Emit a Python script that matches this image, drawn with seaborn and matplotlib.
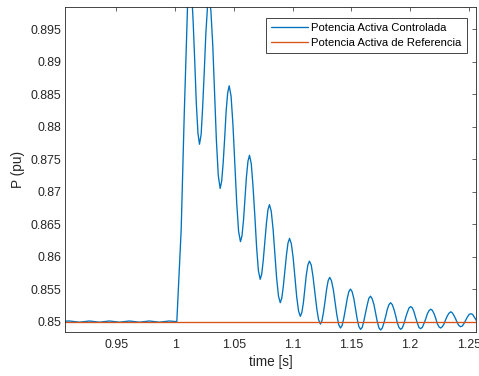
import matplotlib
matplotlib.use("Agg")
import matplotlib.pyplot as plt
import seaborn as sns
import numpy as np
import pandas as pd
from matplotlib.ticker import FuncFormatter

# ---------------- data ----------------
t_pre = [0.9050, 0.9100, 0.9185, 0.9270, 0.9355, 0.9440, 0.9525, 0.9610,
         0.9695, 0.9780, 0.9865, 0.9950, 1.0000]
p_pre = [0.85005, 0.85008, 0.84990, 0.85008, 0.84990, 0.85008, 0.84990,
         0.85008, 0.84990, 0.85008, 0.84990, 0.85008, 0.85000]

t_osc = [1.0014, 1.0051, 1.0077, 1.0105, 1.0116, 1.0126,
         1.0140, 1.0153, 1.0167, 1.0180, 1.0194, 1.0207,
         1.0221, 1.0234, 1.0248, 1.0261, 1.0275, 1.0288,
         1.0304, 1.0320, 1.0336, 1.0351, 1.0367, 1.0383,
         1.0396, 1.0409, 1.0422, 1.0434, 1.0447, 1.0460,
         1.0476, 1.0492, 1.0508, 1.0524, 1.0540, 1.0556,
         1.0569, 1.0582, 1.0595, 1.0607, 1.0620, 1.0633,
         1.0648, 1.0663, 1.0679, 1.0694, 1.0709, 1.0724,
         1.0737, 1.0750, 1.0764, 1.0777, 1.0790, 1.0803,
         1.0818, 1.0834, 1.0849, 1.0864, 1.0880, 1.0895,
         1.0908, 1.0921, 1.0935, 1.0948, 1.0961, 1.0974,
         1.0989, 1.1005, 1.1020, 1.1035, 1.1051, 1.1066,
         1.1079, 1.1092, 1.1105, 1.1117, 1.1130, 1.1143,
         1.1159, 1.1174, 1.1190, 1.1206, 1.1221, 1.1237,
         1.1250, 1.1263, 1.1277, 1.1290, 1.1303, 1.1316,
         1.1331, 1.1347, 1.1362, 1.1377, 1.1393, 1.1408,
         1.1422, 1.1436, 1.1451, 1.1465, 1.1479, 1.1493,
         1.1507, 1.1522, 1.1536, 1.1550, 1.1565, 1.1579,
         1.1593, 1.1607, 1.1622, 1.1636, 1.1650, 1.1664,
         1.1678, 1.1693, 1.1707, 1.1721, 1.1736, 1.1750,
         1.1764, 1.1778, 1.1793, 1.1807, 1.1821, 1.1835,
         1.1849, 1.1863, 1.1878, 1.1892, 1.1906, 1.1920,
         1.1934, 1.1949, 1.1963, 1.1977, 1.1992, 1.2006,
         1.2020, 1.2034, 1.2048, 1.2062, 1.2076, 1.2090,
         1.2105, 1.2119, 1.2134, 1.2148, 1.2163, 1.2177,
         1.2191, 1.2205, 1.2219, 1.2232, 1.2246, 1.2260,
         1.2275, 1.2289, 1.2304, 1.2319, 1.2333, 1.2348,
         1.2362, 1.2375, 1.2389, 1.2403, 1.2416, 1.2430,
         1.2445, 1.2460, 1.2475, 1.2489, 1.2504, 1.2519,
         1.2533, 1.2547, 1.2561, 1.2574]
p_osc = [0.8500, 0.8641, 0.8818, 0.8984, 0.9015, 0.9025,
         0.9008, 0.8962, 0.8899, 0.8836, 0.8790, 0.8773,
         0.8788, 0.8830, 0.8886, 0.8943, 0.8984, 0.8999,
         0.8979, 0.8926, 0.8852, 0.8779, 0.8725, 0.8705,
         0.8716, 0.8745, 0.8784, 0.8824, 0.8852, 0.8863,
         0.8847, 0.8803, 0.8743, 0.8683, 0.8639, 0.8623,
         0.8632, 0.8656, 0.8690, 0.8723, 0.8747, 0.8756,
         0.8743, 0.8708, 0.8661, 0.8613, 0.8578, 0.8565,
         0.8573, 0.8594, 0.8623, 0.8651, 0.8672, 0.8680,
         0.8670, 0.8642, 0.8605, 0.8567, 0.8539, 0.8529,
         0.8536, 0.8554, 0.8579, 0.8603, 0.8621, 0.8628,
         0.8620, 0.8598, 0.8568, 0.8538, 0.8516, 0.8508,
         0.8514, 0.8529, 0.8551, 0.8572, 0.8587, 0.8593,
         0.8587, 0.8569, 0.8545, 0.8520, 0.8503, 0.8496,
         0.8501, 0.8514, 0.8532, 0.8550, 0.8563, 0.8568,
         0.8563, 0.8549, 0.8529, 0.8510, 0.8495, 0.8490,
         0.8494, 0.8505, 0.8520, 0.8535, 0.8546, 0.8550,
         0.8546, 0.8535, 0.8519, 0.8504, 0.8492, 0.8488,
         0.8491, 0.8501, 0.8514, 0.8526, 0.8536, 0.8539,
         0.8535, 0.8526, 0.8513, 0.8500, 0.8490, 0.8487,
         0.8490, 0.8498, 0.8508, 0.8519, 0.8526, 0.8529,
         0.8526, 0.8519, 0.8509, 0.8498, 0.8491, 0.8488,
         0.8490, 0.8497, 0.8506, 0.8514, 0.8521, 0.8523,
         0.8521, 0.8515, 0.8506, 0.8498, 0.8491, 0.8489,
         0.8491, 0.8497, 0.8504, 0.8512, 0.8517, 0.8519,
         0.8517, 0.8512, 0.8505, 0.8497, 0.8492, 0.8490,
         0.8492, 0.8496, 0.8503, 0.8509, 0.8513, 0.8515,
         0.8513, 0.8509, 0.8504, 0.8498, 0.8494, 0.8492,
         0.8493, 0.8497, 0.8502, 0.8507, 0.8511, 0.8512,
         0.8511, 0.8507, 0.8503, 0.8498]

t_ref = [0.9050, 1.2600]
p_ref = [0.85, 0.85]

x_ticks = [0.95, 1.0, 1.05, 1.1, 1.15, 1.2, 1.25]
y_ticks = [0.85, 0.855, 0.86, 0.865, 0.87, 0.875, 0.88, 0.885, 0.89, 0.895]

label_ctrl = "Potencia Activa Controlada"
label_ref = "Potencia Activa de Referencia"

# ---------------- style ----------------
sns.set_style("white")
plt.rcParams["font.family"] = ["Liberation Sans", "DejaVu Sans"]
AX_COL = "#262626"

fig = plt.figure(figsize=(4.79, 3.76), dpi=100)
ax = fig.add_axes([0.1363, 0.1162, 0.8574, 0.8644])

df_ctrl = pd.DataFrame({"time": t_pre + t_osc, "P": p_pre + p_osc})
df_ref = pd.DataFrame({"time": t_ref, "P": p_ref})

sns.lineplot(data=df_ctrl, x="time", y="P", ax=ax, color="#0072BD",
             linewidth=0.95, estimator=None, label=label_ctrl)
sns.lineplot(data=df_ref, x="time", y="P", ax=ax, color="#D95319",
             linewidth=0.95, estimator=None, label=label_ref)

ax.set_xlim(0.9064, 1.2562)
ax.set_ylim(0.84834, 0.89839)
ax.set_xticks(x_ticks)
ax.set_yticks(y_ticks)
ax.xaxis.set_major_formatter(FuncFormatter(lambda v, p: f"{v:g}"))
ax.yaxis.set_major_formatter(FuncFormatter(lambda v, p: f"{v:g}"))

for s in ax.spines.values():
    s.set_visible(True)
    s.set_color(AX_COL)
    s.set_linewidth(0.6)

ax.tick_params(axis="both", which="major", direction="in", length=3.0,
               width=0.5, color=AX_COL, labelcolor=AX_COL, labelsize=8.9,
               top=True, right=True)
ax.tick_params(axis="x", pad=4.5)
ax.tick_params(axis="y", pad=3.0)

ax.set_xlabel("time [s]", fontsize=9.8, color=AX_COL, labelpad=3.5)
ax.set_ylabel("P (pu)", fontsize=9.8, color=AX_COL, labelpad=4)
ax.grid(False)

leg = ax.legend(loc="upper right",
                bbox_to_anchor=(466.7 / 479, 1 - 18.3 / 376),
                bbox_transform=fig.transFigure, borderaxespad=0,
                fontsize=8.1, frameon=True, fancybox=False, shadow=False,
                framealpha=1, edgecolor=AX_COL, handlelength=3.3,
                handletextpad=0.3, labelspacing=0.42, borderpad=0.45)
leg.get_frame().set_linewidth(0.6)
for txt in leg.get_texts():
    txt.set_color("black")

fig.savefig("out.png", dpi=100)
